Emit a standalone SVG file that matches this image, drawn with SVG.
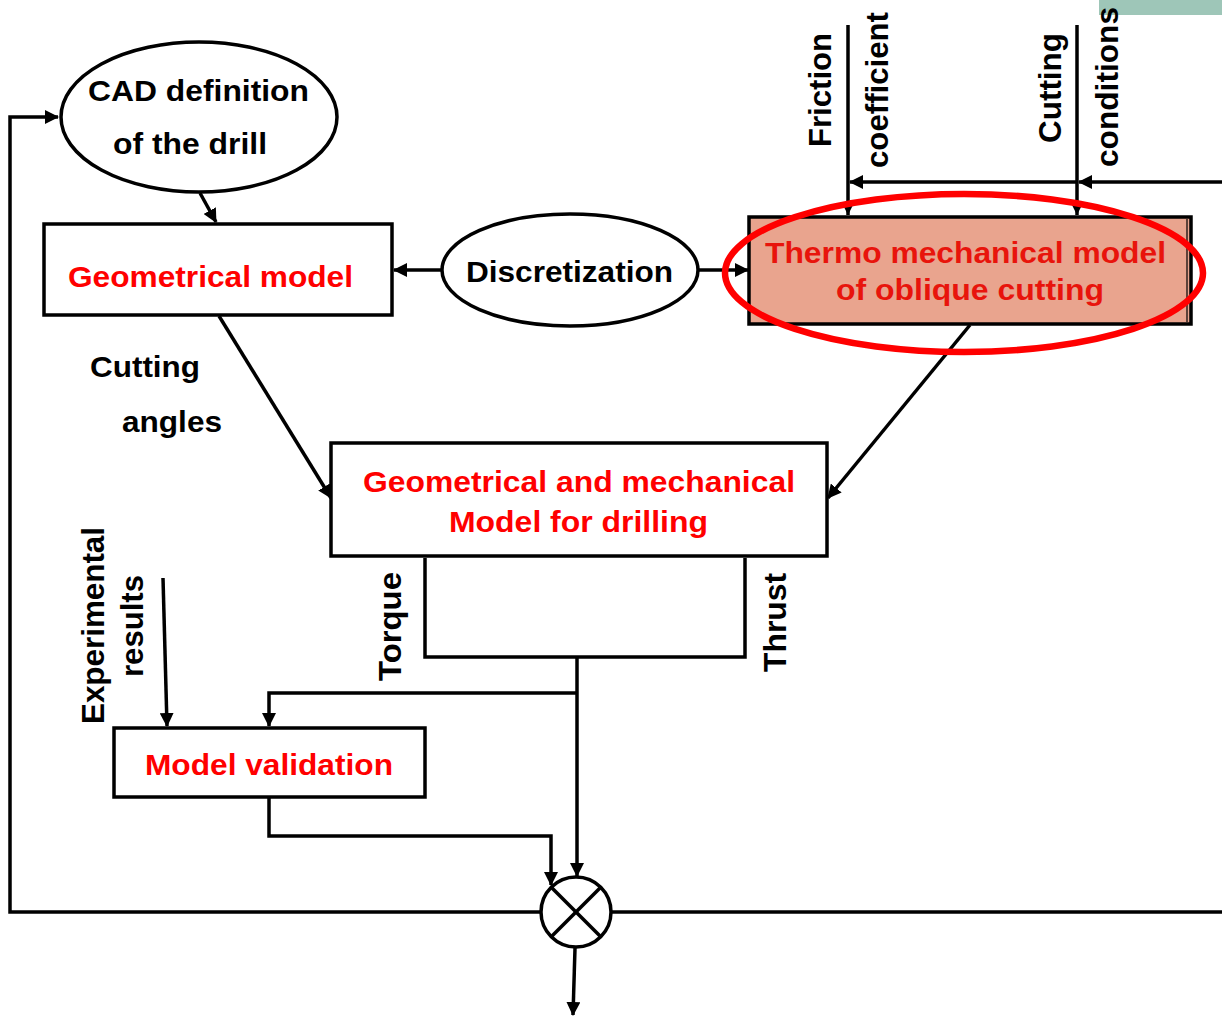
<svg xmlns="http://www.w3.org/2000/svg" width="1222" height="1016" viewBox="0 0 1222 1016">
<style>
.ln{fill:none;stroke:#000;stroke-width:3.5;stroke-linejoin:miter}
.box{fill:#fff;stroke:#000;stroke-width:3.5}
.t{font-family:"Liberation Sans",Arial,sans-serif;font-weight:bold;font-size:30px;fill:#000}
.v{font-family:"Liberation Sans",Arial,sans-serif;font-weight:bold;font-size:32px;fill:#000}
.red{fill:#ff0000}
.red2{fill:#e8140c}
</style>
<defs>
<marker id="ah" markerUnits="userSpaceOnUse" markerWidth="14" markerHeight="14" refX="13" refY="7" orient="auto" viewBox="0 0 14 14">
<path d="M0,0 L14,7 L0,14 z" fill="#000"/>
</marker>
<marker id="ahs" markerUnits="userSpaceOnUse" markerWidth="10" markerHeight="10" refX="10" refY="5" orient="auto" viewBox="0 0 10 10">
<path d="M0,0 L10,5 L0,10 z" fill="#000"/>
</marker>
</defs>
<rect x="0" y="0" width="1222" height="1016" fill="#fff"/>
<rect x="1099" y="0" width="123" height="15" fill="#9ec6b8"/>

<g id="connectors">
<polyline class="ln" points="540,912 10,912 10,117 58,117" marker-end="url(#ah)"/>
<line class="ln" x1="612" y1="912" x2="1222" y2="912"/>
<line class="ln" x1="1222" y1="182" x2="1079" y2="182" marker-end="url(#ah)"/>
<line class="ln" x1="1076" y1="182" x2="850" y2="182" marker-end="url(#ah)"/>
<line class="ln" x1="848" y1="25" x2="848" y2="215" marker-end="url(#ahs)"/>
<line class="ln" x1="1077" y1="25" x2="1077" y2="215" marker-end="url(#ahs)"/>
<line class="ln" x1="200" y1="193" x2="216" y2="222" marker-end="url(#ah)"/>
<line class="ln" x1="442" y1="270" x2="394" y2="270" marker-end="url(#ah)"/>
<line class="ln" x1="698" y1="270" x2="748" y2="270" marker-end="url(#ah)"/>
<line class="ln" x1="219" y1="316" x2="331" y2="498" marker-end="url(#ah)"/>
<line class="ln" x1="970" y1="325" x2="828" y2="498" marker-end="url(#ah)"/>
<polyline class="ln" points="425,558 425,657 745,657 745,558"/>
<line class="ln" x1="577" y1="657" x2="577" y2="876" marker-end="url(#ah)"/>
<polyline class="ln" points="577,693 269,693 269,726" marker-end="url(#ah)"/>
<line class="ln" x1="163" y1="578" x2="167" y2="726" marker-end="url(#ah)"/>
<polyline class="ln" points="269,798 269,836 551,836 551,885" marker-end="url(#ah)"/>
<line class="ln" x1="575" y1="948" x2="573" y2="1015" marker-end="url(#ah)"/>
</g>

<g id="cad">
<ellipse cx="199" cy="117" rx="138" ry="75" class="box"/>
<text class="t" x="88" y="101" textLength="221" lengthAdjust="spacingAndGlyphs">CAD definition</text>
<text class="t" x="113" y="154" textLength="154" lengthAdjust="spacingAndGlyphs">of the drill</text>
</g>

<g id="geometrical">
<rect x="44" y="224" width="348" height="91" class="box"/>
<text class="t red" x="68" y="287" textLength="285" lengthAdjust="spacingAndGlyphs">Geometrical model</text>
</g>

<g id="discretization">
<ellipse cx="570" cy="270" rx="128" ry="56" class="box"/>
<text class="t" x="466" y="282" textLength="207" lengthAdjust="spacingAndGlyphs">Discretization</text>
</g>

<g id="thermo">
<rect x="749" y="217" width="442" height="107" fill="#e9a48e" stroke="#000" stroke-width="3.5"/>
<line x1="1187" y1="219" x2="1187" y2="322" stroke="#000" stroke-width="1.2"/>
<text class="t red2" x="765" y="263" textLength="401" lengthAdjust="spacingAndGlyphs">Thermo mechanical model</text>
<text class="t red2" x="836" y="300" textLength="268" lengthAdjust="spacingAndGlyphs">of oblique cutting</text>
<ellipse cx="964" cy="273" rx="239" ry="79" fill="none" stroke="#ff0000" stroke-width="6.5"/>
</g>

<g id="gm">
<rect x="331" y="443" width="496" height="113" class="box"/>
<text class="t red" x="363" y="492" textLength="432" lengthAdjust="spacingAndGlyphs">Geometrical and mechanical</text>
<text class="t red" x="449" y="532" textLength="259" lengthAdjust="spacingAndGlyphs">Model for drilling</text>
</g>

<g id="validation">
<rect x="114" y="728" width="311" height="69" class="box"/>
<text class="t red" x="145" y="775" textLength="248" lengthAdjust="spacingAndGlyphs">Model validation</text>
</g>

<g id="combiner">
<circle cx="576" cy="912" r="35" class="box"/>
<line class="ln" x1="551" y1="887" x2="601" y2="937"/>
<line class="ln" x1="601" y1="887" x2="551" y2="937"/>
</g>

<g id="labels">
<text class="t" x="90" y="377" textLength="110" lengthAdjust="spacingAndGlyphs">Cutting</text>
<text class="t" x="122" y="432" textLength="100" lengthAdjust="spacingAndGlyphs">angles</text>
<text class="v" transform="translate(831,147) rotate(-90)" textLength="114" lengthAdjust="spacingAndGlyphs">Friction</text>
<text class="v" transform="translate(888,168) rotate(-90)" textLength="156" lengthAdjust="spacingAndGlyphs">coefficient</text>
<text class="v" transform="translate(1061,143) rotate(-90)" textLength="110" lengthAdjust="spacingAndGlyphs">Cutting</text>
<text class="v" transform="translate(1118,167) rotate(-90)" textLength="160" lengthAdjust="spacingAndGlyphs">conditions</text>
<text class="v" transform="translate(104,724) rotate(-90)" textLength="197" lengthAdjust="spacingAndGlyphs">Experimental</text>
<text class="v" transform="translate(143,677) rotate(-90)" textLength="102" lengthAdjust="spacingAndGlyphs">results</text>
<text class="v" transform="translate(401,681) rotate(-90)" textLength="109" lengthAdjust="spacingAndGlyphs">Torque</text>
<text class="v" transform="translate(786,672) rotate(-90)" textLength="99" lengthAdjust="spacingAndGlyphs">Thrust</text>
</g>
</svg>
